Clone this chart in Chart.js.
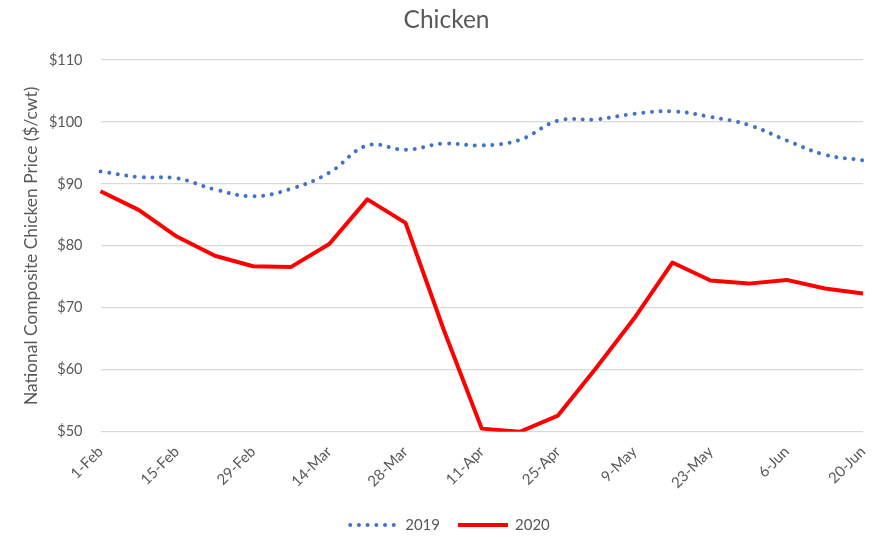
<!DOCTYPE html>
<html>
<head>
<meta charset="utf-8">
<script src="https://cdn.jsdelivr.net/npm/chart.js@4/dist/chart.umd.min.js"></script>
<style>
  html, body { margin: 0; padding: 0; background: #fff; }
  #wrap { width: 881px; height: 537px; }
</style>
</head>
<body>
<div id="wrap"><canvas id="myChart" width="881" height="537"></canvas></div>
<script>
// Weekly dates, labelled every second week
const weeks = ['1-Feb', '8-Feb', '15-Feb', '22-Feb', '29-Feb', '7-Mar', '14-Mar', '21-Mar', '28-Mar', '4-Apr',
    '11-Apr', '18-Apr', '25-Apr', '2-May', '9-May', '16-May', '23-May', '30-May', '6-Jun', '13-Jun', '20-Jun'];

// Prices in $/cwt
const price2019 = [92.0, 91.1, 90.9, 89.1, 88.0, 89.2, 91.8, 96.2, 95.5, 96.5, 96.2,
    97.1, 100.2, 100.4, 101.3, 101.7, 100.8, 99.5, 97.0, 94.7, 93.8];
const price2020 = [88.8, 85.8, 81.5, 78.4, 76.7, 76.6, 80.3, 87.5, 83.7, 66.5, 50.5,
    50.0, 52.6, 60.3, 68.3, 77.3, 74.4, 73.9, 74.5, 73.1, 72.3];

const yTicks = [50, 60, 70, 80, 90, 100, 110];

const textColor = '#595959';
const fontFamily = 'Lato, "Open Sans", sans-serif';

// Simple legend drawn under the chart, so the dotted sample looks like the line
const bottomLegend = {
    id: 'bottomLegend',
    afterDraw(chart) {
        const c = chart.ctx;
        const sets = chart.data.datasets;
        const sampleW = 50, gap = 7, itemGap = 18;
        c.save();
        c.font = '15px ' + fontFamily;
        c.textBaseline = 'middle';
        const widths = sets.map(ds => sampleW + gap + c.measureText(ds.label).width);
        const total = widths.reduce((a, b) => a + b, 0) + itemGap * (sets.length - 1);
        let x = 449 - total / 2;
        const y = chart.height - 12;
        sets.forEach((ds, i) => {
            c.strokeStyle = ds.borderColor;
            c.lineWidth = ds.borderWidth;
            c.lineCap = ds.borderCapStyle || 'butt';
            c.setLineDash(ds.borderDash || []);
            c.beginPath();
            c.moveTo(x + (ds.borderDash ? 2 : 0), y);
            c.lineTo(x + sampleW, y);
            c.stroke();
            c.setLineDash([]);
            c.fillStyle = textColor;
            c.fillText(ds.label, x + sampleW + gap, y);
            x += widths[i] + itemGap;
        });
        c.restore();
    }
};

const ctx = document.getElementById('myChart');

new Chart(ctx, {
    type: 'line',
    data: {
        labels: weeks,
        datasets: [
            {
                label: '2019',
                data: price2019,
                borderColor: '#4472C4',
                backgroundColor: '#4472C4',
                borderWidth: 4,
                borderDash: [0.01, 8.7],
                borderCapStyle: 'round',
                tension: 0.4,
                pointRadius: 0
            },
            {
                label: '2020',
                data: price2020,
                borderColor: '#FF0000',
                backgroundColor: '#FF0000',
                borderWidth: 4,
                borderJoinStyle: 'round',
                tension: 0,
                pointRadius: 0
            }
        ]
    },
    options: {
        responsive: false,
        animation: false,
        layout: { padding: { left: 30, right: 18, top: 0, bottom: 42 } },
        plugins: {
            title: {
                display: true,
                text: 'Chicken',
                color: textColor,
                font: { family: fontFamily, size: 24.5, weight: 'normal' },
                padding: { top: 5, bottom: 25.5 }
            },
            legend: { display: false },
            tooltip: { enabled: false }
        },
        scales: {
            x: {
                grid: { display: false },
                border: { display: false },
                ticks: {
                    autoSkip: false,
                    maxRotation: 45,
                    minRotation: 45,
                    color: textColor,
                    font: { family: fontFamily, size: 15 },
                    callback: function(value, index) {
                        return index % 2 === 0 ? weeks[index] : '';
                    }
                }
            },
            y: {
                min: yTicks[0],
                max: yTicks[yTicks.length - 1],
                border: { display: false },
                grid: { color: '#D9D9D9', lineWidth: 1.3, drawTicks: false },
                afterBuildTicks: function(axis) {
                    axis.ticks = yTicks.map(v => ({ value: v }));
                },
                ticks: {
                    color: textColor,
                    padding: 18,
                    font: { family: fontFamily, size: 14.5 },
                    callback: function(value) {
                        return '$' + value;
                    }
                },
                title: {
                    display: true,
                    text: 'National Composite Chicken Price ($/cwt)',
                    color: textColor,
                    font: { family: fontFamily, size: 17.4 },
                    padding: { top: -9, bottom: -11 }
                }
            }
        }
    },
    plugins: [bottomLegend]
});
</script>
</body>
</html>
